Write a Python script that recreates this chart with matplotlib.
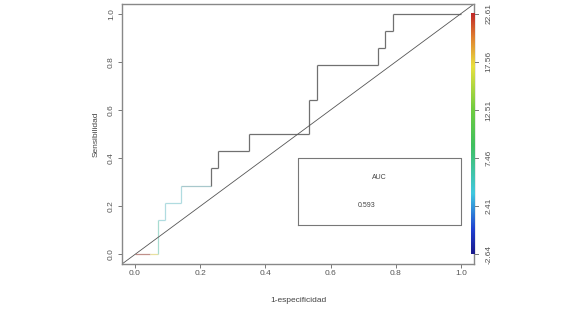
import numpy as np
import matplotlib
matplotlib.use("Agg")
import matplotlib.pyplot as plt
from matplotlib.colors import LinearSegmentedColormap

plt.rcParams['font.family'] = ['Liberation Sans', 'DejaVu Sans']

# ROC curve (step points), 14 positives / 43 negatives
fpr = [0, 0.047, 3/43, 3/43, 4/43, 4/43, 6/43, 6/43, 10/43, 10/43, 11/43, 11/43,
       15/43, 15/43, 23/43, 23/43, 24/43, 24/43, 32/43, 32/43, 33/43, 33/43,
       34/43, 34/43, 1.0]
tpr = [0, 0, 0, 2/14, 2/14, 3/14, 3/14, 4/14, 4/14, 5/14, 5/14, 6/14,
       6/14, 7/14, 7/14, 9/14, 9/14, 11/14, 11/14, 12/14, 12/14, 13/14,
       13/14, 1.0, 1.0]
# colour of each segment (cutoff colouring)
seg_colors = ['#c0908a', '#e8e0a0', '#a8dcd0', '#b0dce0', '#b0dce0', '#b0dce0',
              '#b0dce0', '#a8c8cc'] + ['#707070'] * 16

auc = 0.593
cut_labels = ['-2.64', '2.41', '7.46', '12.51', '17.56', '22.61']
xticks = [0.0, 0.2, 0.4, 0.6, 0.8, 1.0]

cmap = LinearSegmentedColormap.from_list('roc', [
    (0.0, '#1a1a8c'), (0.1, '#2040d0'), (0.25, '#40c8e0'), (0.45, '#40c060'),
    (0.6, '#70cc40'), (0.78, '#e8e040'), (0.9, '#e08030'), (1.0, '#c02828')])

fig = plt.figure(figsize=(5.68, 3.17), dpi=100)
ax = fig.add_axes([0.2148, 0.1672, 0.6197, 0.8202])

for i in range(len(fpr) - 1):
    ax.plot(fpr[i:i + 2], tpr[i:i + 2], color=seg_colors[i], lw=0.9,
            solid_capstyle='butt')

ax.axline((0, 0), slope=1, color='#555555', lw=0.6)

# AUC box
ax.plot([0.5, 1.0, 1.0, 0.5, 0.5], [0.12, 0.12, 0.4, 0.4, 0.12],
        color='#777777', lw=0.8)
ax.text(0.75, 0.32, 'AUC', fontsize=5, ha='center', va='center', color='#444444')
ax.text(0.71, 0.205, '%.3f' % auc, fontsize=5, ha='center', va='center',
        color='#444444')

# colour key
grad = np.linspace(0, 1, 256).reshape(-1, 1)
ax.imshow(grad, cmap=cmap, origin='lower', aspect='auto',
          extent=[1.030, 1.043, 0, 1], zorder=3)
for k, lab in enumerate(cut_labels):
    yk = k / (len(cut_labels) - 1)
    ax.plot([1.043, 1.052], [yk, yk], color='#777777', lw=0.7, clip_on=False)
    ax.text(1.085, yk, lab, rotation=90, ha='center', va='center', fontsize=6,
            color='#555555', clip_on=False)

ax.set_xlim(-0.04, 1.04)
ax.set_ylim(-0.04, 1.04)
ax.set_xticks(xticks)
ax.set_yticks(xticks)
ax.set_xticklabels(['%.1f' % v for v in xticks])
ax.set_yticklabels(['%.1f' % v for v in xticks], rotation=90, va='center')
ax.tick_params(labelsize=6, colors='#777777', labelcolor='#555555',
               length=3, width=0.7)
ax.tick_params(axis='x', pad=1.5)
ax.tick_params(axis='y', pad=2)
for s in ax.spines.values():
    s.set_color('#888888')
    s.set_linewidth(1.0)

ax.set_xlabel('1-especificidad', fontsize=6, color='#444444', labelpad=14)
ax.set_ylabel('Sensibilidad', fontsize=6, color='#444444', labelpad=6)

fig.savefig('out.png', dpi=100)
